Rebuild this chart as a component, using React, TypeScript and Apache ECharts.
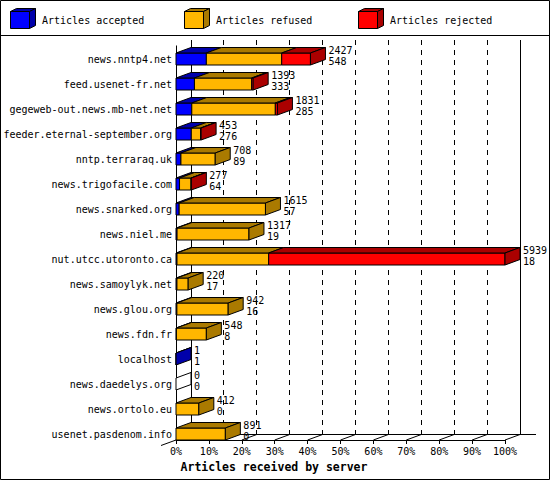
import React, { useEffect, useRef } from 'react';
import * as echarts from 'echarts';

const SERVERS = [
  'news.nntp4.net',
  'feed.usenet-fr.net',
  'gegeweb-out.news.mb-net.net',
  'feeder.eternal-september.org',
  'nntp.terraraq.uk',
  'news.trigofacile.com',
  'news.snarked.org',
  'news.niel.me',
  'nut.utcc.utoronto.ca',
  'news.samoylyk.net',
  'news.glou.org',
  'news.fdn.fr',
  'localhost',
  'news.daedelys.org',
  'news.ortolo.eu',
  'usenet.pasdenom.info',
];

const ACCEPTED = [548, 333, 285, 276, 89, 64, 57, 19, 18, 17, 16, 8, 1, 0, 0, 0];
const REFUSED = [1360, 1033, 1508, 170, 619, 208, 1558, 1298, 1655, 203, 926, 540, 0, 0, 412, 891];
const REJECTED = [519, 27, 38, 7, 0, 5, 0, 0, 4266, 0, 0, 0, 0, 0, 0, 0];

const SEGMENT_NAMES = ['Articles accepted', 'Articles refused', 'Articles rejected'];
const X_TICKS = [0, 10, 20, 30, 40, 50, 60, 70, 80, 90, 100];
const X_TITLE = 'Articles received by server';

const SEGMENTS = [ACCEPTED, REFUSED, REJECTED];
const TOTALS = SERVERS.map((_, i) => ACCEPTED[i] + REFUSED[i] + REJECTED[i]);
const MAX_TOTAL = Math.max(...TOTALS);
const pct = (v: number) => (100 * v) / MAX_TOTAL;

const FONT = '"DejaVu Sans Mono", "Liberation Mono", monospace';
const FRONT = ['#0000ff', '#ffb700', '#ff0000'];
const SHADE = ['#0000aa', '#aa7a00', '#aa0000'];
const DX = 15;
const DY = 5.5;
const FRONT_H = 12;
const LINE = { stroke: '#000', lineWidth: 1 };

const crisp = (v: number) => Math.round(v - 0.5) + 0.5;

const segmentSeries = (k: number): any => {
  const data = SERVERS.map((_, i) => {
    let start = 0;
    for (let j = 0; j < k; j++) start += SEGMENTS[j][i];
    return [i, pct(start), pct(start + SEGMENTS[k][i])];
  });
  return {
    type: 'custom',
    name: SEGMENT_NAMES[k],
    z: 3,
    data,
    encode: { x: [1, 2], y: 0 },
    renderItem: (params: any, api: any) => {
      const i = api.value(0);
      const v = SEGMENTS[k][i];
      const x0 = api.coord([api.value(1), i])[0];
      const x1 = api.coord([api.value(2), i])[0];
      const yc = api.coord([0, i])[1];
      const yB = yc + api.size([0, 1])[1] / 2;
      const yT = yB - FRONT_H;
      const children: any[] = [];
      if (v > 0) {
        children.push({
          type: 'rect',
          shape: { x: x0, y: yT, width: x1 - x0, height: FRONT_H },
          style: { fill: FRONT[k], ...LINE },
        });
        children.push({
          type: 'polygon',
          shape: { points: [[x0, yT], [x1, yT], [x1 + DX, yT - DY], [x0 + DX, yT - DY]] },
          style: { fill: SHADE[k], ...LINE },
        });
      }
      let isLast = v > 0;
      for (let j = k + 1; j < SEGMENTS.length; j++) if (SEGMENTS[j][i] > 0) isLast = false;
      const emptyRow = TOTALS[i] === 0 && k === 0;
      if (isLast || emptyRow) {
        children.push({
          type: 'polygon',
          shape: { points: [[x1, yT], [x1 + DX, yT - DY], [x1 + DX, yB - DY], [x1, yB]] },
          style: { fill: emptyRow ? '#ffffff' : SHADE[k], ...LINE },
        });
      }
      return { type: 'group', children };
    },
  };
};

// back wall, floor and left axis of the 3d box
const frameSeries: any = {
  type: 'custom',
  z: 1,
  silent: true,
  data: [[0, 0]],
  encode: { x: 0, y: 1 },
  renderItem: (params: any, api: any) => {
    const xs = X_TICKS.map((t) => api.coord([t, 0])[0]);
    const bh = api.size([0, 1])[1];
    const yTop = api.coord([0, 0])[1] - bh / 2;
    const yBot = api.coord([0, SERVERS.length - 1])[1] + bh / 2;
    const last = xs.length - 1;
    const children: any[] = [];
    xs.forEach((x, j) => {
      const edge = j === 0 || j === last;
      children.push({
        type: 'line',
        shape: { x1: crisp(x + DX), y1: yTop, x2: crisp(x + DX), y2: yBot - DY },
        style: { ...LINE, lineDash: edge ? null : [5, 5] },
      });
      children.push({
        type: 'line',
        shape: { x1: x, y1: yBot, x2: x + DX, y2: yBot - DY },
        style: LINE,
      });
    });
    children.push({
      type: 'line',
      shape: { x1: xs[0] + DX, y1: crisp(yBot - DY), x2: xs[last] + DX + 16, y2: crisp(yBot - DY) },
      style: LINE,
    });
    children.push({
      type: 'line',
      shape: { x1: crisp(xs[0]), y1: yTop + DY, x2: crisp(xs[0]), y2: yBot },
      style: LINE,
    });
    children.push({
      type: 'line',
      shape: { x1: xs[0] - DX, y1: yBot + DY, x2: xs[0], y2: yBot },
      style: LINE,
    });
    return { type: 'group', children };
  },
};

const labelSeries: any = {
  type: 'custom',
  z: 4,
  silent: true,
  data: TOTALS.map((t, i) => [i, pct(t)]),
  encode: { x: 1, y: 0 },
  renderItem: (params: any, api: any) => {
    const i = api.value(0);
    const [x, yc] = api.coord([api.value(1), i]);
    return {
      type: 'text',
      x: x + DX + 3,
      y: yc + 3,
      style: {
        text: `${TOTALS[i]}\n${ACCEPTED[i]}`,
        fill: '#000',
        font: `10px ${FONT}`,
        align: 'left',
        verticalAlign: 'middle',
        lineHeight: 11,
      },
    };
  },
};

const legendGraphic = SEGMENT_NAMES.flatMap((name, k) => {
  const x = 10 + 174 * k;
  return [
    {
      type: 'rect',
      shape: { x: x + 0.5, y: 11.5, width: 19, height: 17 },
      style: { fill: FRONT[k], ...LINE },
    },
    {
      type: 'polygon',
      shape: { points: [[x + 0.5, 11.5], [x + 19.5, 11.5], [x + 25.5, 8.5], [x + 6.5, 8.5]] },
      style: { fill: SHADE[k], ...LINE },
    },
    {
      type: 'polygon',
      shape: { points: [[x + 19.5, 11.5], [x + 25.5, 8.5], [x + 25.5, 25.5], [x + 19.5, 28.5]] },
      style: { fill: SHADE[k], ...LINE },
    },
    {
      type: 'text',
      x: x + 32,
      y: 20,
      style: { text: name, fill: '#000', font: `10px ${FONT}`, verticalAlign: 'middle' },
    },
  ];
});

const App = (): JSX.Element => {
  const divEl = useRef<HTMLDivElement>(null);

  useEffect(() => {
    document.body.style.margin = '0';
    const instance = echarts.init(divEl.current as any, null, { renderer: 'svg' });

    const option: any = {
      animation: false,
      backgroundColor: '#ffffff',
      grid: { left: 176, top: 40, width: 329, height: 400 },
      xAxis: {
        type: 'value',
        min: 0,
        max: 100,
        interval: 10,
        name: X_TITLE,
        nameLocation: 'middle',
        nameGap: 20,
        nameTextStyle: {
          color: '#000',
          fontFamily: FONT,
          fontSize: 11.5,
          fontWeight: 'bold',
          padding: [0, 133, 0, 0],
        },
        axisLine: { show: true, lineStyle: { color: '#000', width: 1 } },
        axisTick: { show: true, length: 4, lineStyle: { color: '#000' } },
        axisLabel: { color: '#000', fontFamily: FONT, fontSize: 10, margin: 6, formatter: '{value}%' },
        splitLine: { show: false },
      },
      yAxis: {
        type: 'category',
        inverse: true,
        data: SERVERS,
        axisLine: { show: false },
        axisTick: { show: false },
        axisLabel: {
          interval: 0,
          margin: 4,
          formatter: (v: string) => `{a|${v}}`,
          rich: { a: { padding: [13, 0, 0, 0], color: '#000', fontFamily: FONT, fontSize: 10 } },
        },
      },
      graphic: [
        {
          type: 'rect',
          z: 100,
          shape: { x: 0.5, y: 0.5, width: 549, height: 479 },
          style: { fill: 'none', ...LINE },
        },
        { type: 'line', shape: { x1: 0, y1: 35.5, x2: 550, y2: 35.5 }, style: LINE },
        ...legendGraphic,
      ],
      series: [frameSeries, segmentSeries(0), segmentSeries(1), segmentSeries(2), labelSeries],
    };

    instance.setOption(option);

    return () => {
      instance.dispose();
    };
  }, []);

  return <div ref={divEl} style={{ width: 550, height: 480 }}></div>;
};

export default App;
